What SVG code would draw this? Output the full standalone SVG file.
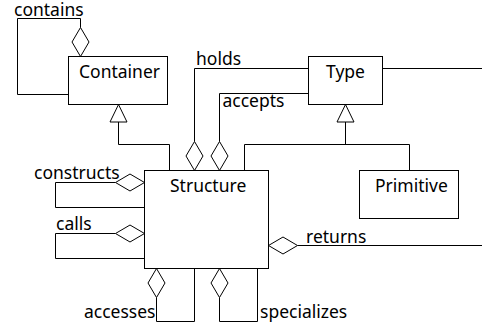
<svg xmlns="http://www.w3.org/2000/svg" width="482" height="325" viewBox="0 0 482 325">
<style>
  .box { fill: #fff; stroke: #000; stroke-width: 1; }
  .ln { fill: none; stroke: #000; stroke-width: 1; }
  .dia { fill: #fff; stroke: #000; stroke-width: 1; }
  .tri { fill: #fff; stroke: #000; stroke-width: 1; }
  text { font-family: "Noto Sans", "Open Sans", sans-serif; font-size: 17.5px; fill: #000; }
</style>
<rect width="482" height="325" fill="#fff"/>
<g id="connectors">
  <!-- contains -->
  <polyline class="ln" points="80.5,27.5 80.5,18.5 17.5,18.5 17.5,94.5 68.5,94.5"/>
  <polygon class="dia" points="80.5,56.5 89,42 80.5,27.5 72,42"/>
  <!-- Container generalization -->
  <polyline class="ln" points="118.5,122 118.5,144.5 169.5,144.5 169.5,170.5"/>
  <polygon class="tri" points="118.5,104.5 127,122 110,122"/>
  <!-- holds -->
  <polyline class="ln" points="194.5,141.5 194.5,68.5 308.5,68.5"/>
  <polygon class="dia" points="194.5,170.5 203,156 194.5,141.5 186,156"/>
  <!-- accepts -->
  <polyline class="ln" points="219.5,141.5 219.5,93.5 308.5,93.5"/>
  <polygon class="dia" points="219.5,170.5 228,156 219.5,141.5 211,156"/>
  <!-- Type right -->
  <line class="ln" x1="382.5" y1="68.5" x2="482" y2="68.5"/>
  <!-- Type generalization -->
  <polyline class="ln" points="345.5,122 345.5,144.5"/>
  <polyline class="ln" points="244.5,170.5 244.5,144.5 409.5,144.5 409.5,170.5"/>
  <polygon class="tri" points="345.5,104.5 354,122 337,122"/>
  <!-- constructs -->
  <polyline class="ln" points="115.5,182.5 55.5,182.5 55.5,207.5 144.5,207.5"/>
  <polygon class="dia" points="144.5,182.5 130,174 115.5,182.5 130,191"/>
  <!-- calls -->
  <polyline class="ln" points="115.5,233.5 55.5,233.5 55.5,258.5 144.5,258.5"/>
  <polygon class="dia" points="144.5,233.5 130,225 115.5,233.5 130,242"/>
  <!-- accesses -->
  <polyline class="ln" points="156.5,297.5 156.5,321.5 194.5,321.5 194.5,268.5"/>
  <polygon class="dia" points="156.5,268.5 165,283 156.5,297.5 148,283"/>
  <!-- specializes -->
  <polyline class="ln" points="219.5,297.5 219.5,321.5 257.5,321.5 257.5,268.5"/>
  <polygon class="dia" points="219.5,268.5 228,283 219.5,297.5 211,283"/>
  <!-- returns -->
  <line class="ln" x1="297.5" y1="245.5" x2="482" y2="245.5"/>
  <polygon class="dia" points="268.5,245.5 283,237 297.5,245.5 283,254"/>
</g>
<g id="labels">
  <text x="14" y="15.5">contains</text>
  <text x="196" y="65">holds</text>
  <text x="222.5" y="107">accepts</text>
  <text x="34" y="179">constructs</text>
  <text x="56" y="229.5">calls</text>
  <text x="84" y="317.5">accesses</text>
  <text x="260" y="317.5">specializes</text>
  <text x="306" y="243">returns</text>
</g>
<g id="Container">
  <rect class="box" x="68.5" y="56.5" width="99" height="48"/>
  <text x="79" y="78">Container</text>
</g>
<g id="Type">
  <rect class="box" x="308.5" y="56.5" width="74" height="48"/>
  <text x="326" y="78">Type</text>
</g>
<g id="Structure">
  <rect class="box" x="144.5" y="170.5" width="124" height="98"/>
  <text x="170" y="191.5">Structure</text>
</g>
<g id="Primitive">
  <rect class="box" x="359.5" y="170.5" width="99" height="48"/>
  <text x="375" y="192">Primitive</text>
</g>
</svg>
